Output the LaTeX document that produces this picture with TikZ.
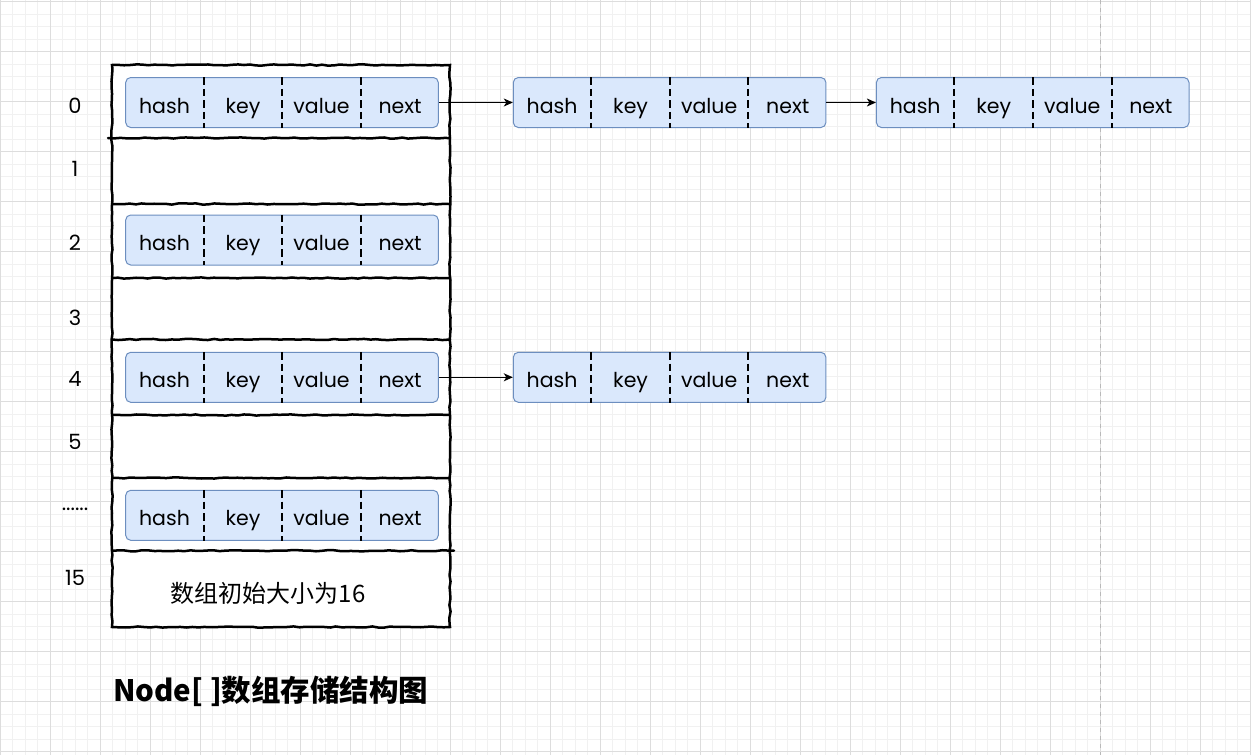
\documentclass[tikz,border=0pt]{standalone}
\usepackage{fontspec}
\usepackage{tikz}
\usetikzlibrary{arrows.meta,positioning,decorations.pathmorphing}
\setmainfont{Poppins}
\newfontfamily\cjk{Noto Sans CJK SC}
\definecolor{cellfill}{HTML}{DAE8FC}
\definecolor{cellblue}{HTML}{6C8EBF}
\definecolor{gridminor}{HTML}{F1F1F1}
\definecolor{gridmajor}{HTML}{DDDDDD}

% one Node entry: hash | key | value | next
\newcommand{\hashentry}[2]{%
  \node[entry box,#2] (#1) {};
  \node[field,right=0pt of #1.west] (#1-1) {hash};
  \node[field,right=0pt of #1-1] (#1-2) {key};
  \node[field,right=0pt of #1-2] (#1-3) {value};
  \node[field,right=0pt of #1-3] (#1-4) {next};
  \foreach \k in {1,2,3}
    \draw[field sep] (#1-\k.north east) -- (#1-\k.south east);
}

\begin{document}
\begin{tikzpicture}[x=1pt,y=-1pt,>={Stealth[length=9pt,width=8pt,inset=2.5pt]},
  entry box/.style={draw=cellblue,fill=cellfill,line width=1pt,rounded corners=5pt,
    minimum width=312.6pt,minimum height=50pt,inner sep=0pt},
  field/.style={minimum width=78.15pt,minimum height=50pt,inner sep=0pt,
    text height=21pt,text depth=0pt,font=\fontsize{20.5}{24}\selectfont},
  field sep/.style={line width=2pt,dash pattern=on 7.5pt off 4pt},
  sketch/.style={line width=2.5pt,line cap=round,decorate,
    decoration={random steps,segment length=6pt,amplitude=0.6pt}},
  link/.style={->,line width=1.2pt},
  index/.style={font=\fontsize{21}{24}\selectfont}]

  \pgfmathsetseed{7}
  \useasboundingbox (0,0) rectangle (1251,755);
  \fill[white] (0,0) rectangle (1251,755);

  % grid
  \foreach \i in {0,...,100}
    \draw[gridminor,line width=1pt] (\i*12.5,0) -- (\i*12.5,755);
  \foreach \i in {0,...,60}
    \draw[gridminor,line width=1pt] (0,1.7+\i*12.5) -- (1251,1.7+\i*12.5);
  \foreach \i in {0,...,25}
    \draw[gridmajor,line width=1pt] (\i*50,0) -- (\i*50,755);
  \foreach \i in {0,...,15}
    \draw[gridmajor,line width=1pt] (0,1.7+\i*50) -- (1251,1.7+\i*50);
  \draw[gray!55,line width=1pt,dash pattern=on 4pt off 4pt] (1100,0) -- (1100,755);

  % the array
  \fill[white] (112,65) rectangle (450,627);
  \draw[sketch] (112,65) -- (450,65) -- (450,627) -- (112,627) -- cycle;
  \draw[sketch] (108,138) -- (450,138);
  \foreach \y in {204,278,339.5,415,478}
    \draw[sketch] (112,\y) -- (450,\y);
  \draw[sketch] (112,550.7) -- (454,550.7);

  % indices
  \foreach \lab/\y in {0/106,1/169,2/242.5,3/317.5,4/379,5/441.7,15/578}
    \node[index] (idx\lab) at (75,\y) {\lab};
  \node[index] (idxdots) at (75,509) {......};

  % entries
  \hashentry{e0}{at={(282,102.5)}}
  \hashentry{e2}{at={(282,240)}}
  \hashentry{e4}{at={(282,377.3)}}
  \hashentry{e6}{at={(282,515.3)}}
  \hashentry{c1}{right=74pt of e0}
  \hashentry{c2}{right=49.5pt of c1}
  \hashentry{c4}{right=74pt of e4}

  \draw[link] (e0) -- (c1);
  \draw[link] (c1) -- (c2);
  \draw[link] (e4) -- (c4);

  \node[font=\cjk\fontsize{24}{28}\selectfont] (initsize) at (268,593) {数组初始大小为16};
  \node[anchor=west,inner sep=0pt,font=\cjk\bfseries\fontsize{29.5}{34}\selectfont] (title)
    at (113,691) {Node[ ]数组存储结构图};

\end{tikzpicture}
\end{document}
